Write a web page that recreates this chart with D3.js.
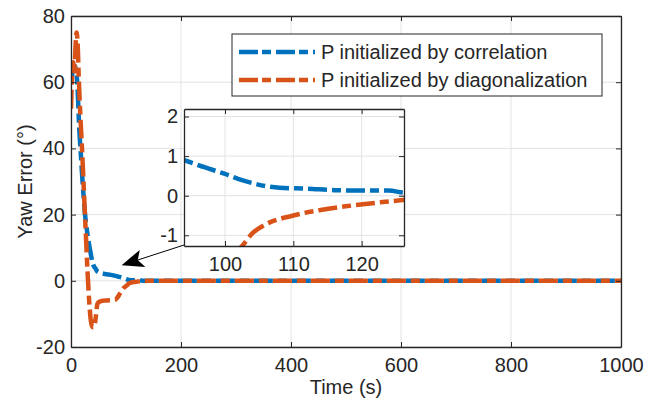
<!DOCTYPE html>
<html>
<head>
<meta charset="utf-8">
<script src="https://cdn.jsdelivr.net/npm/d3@7"></script>
<style>
  body { margin: 0; background: #fff; }
  svg text { font-family: "Liberation Sans", Arial, Helvetica, sans-serif; fill: #262626; }
</style>
</head>
<body>
<svg id="chart" width="657" height="403"></svg>
<script>
// series
const seriesNames = ['P initialized by correlation', 'P initialized by diagonalization'];

const corrTime = [0, 3, 6, 9, 12, 15, 18, 21, 25, 30, 35, 40, 45, 48, 55, 65, 75, 85, 94, 97, 100, 102, 104, 106, 108, 112, 116, 120, 124, 126, 130, 140, 1000];
const corrErr  = [61, 63, 65, 64, 58, 46, 38, 30, 21, 14, 9, 5, 3.6, 2.8, 2.3, 2.0, 1.7, 1.3, 0.9, 0.72, 0.55, 0.42, 0.32, 0.24, 0.2, 0.18, 0.14, 0.13, 0.13, 0.08, 0.05, 0, 0];

const diagTime = [0, 2, 4, 6, 8, 10, 12, 14, 17, 20, 24, 27, 30, 33, 36, 39, 42, 45, 48, 52, 60, 80, 90, 95, 100, 102.5, 104, 106, 110, 114, 118, 122, 126, 132, 140, 1000];
const diagErr  = [52, 62, 66, 62, 70, 75, 72, 62, 50, 40, 25, 14, 3, -6, -12, -14, -14, -11, -7, -6.3, -6, -5.7, -3.6, -2.3, -1.6, -1.27, -0.95, -0.72, -0.5, -0.36, -0.26, -0.18, -0.11, -0.05, -0.01, 0];

const mainXTicks = [0, 200, 400, 600, 800, 1000];
const mainYTicks = [-20, 0, 20, 40, 60, 80];
const zoomXTicks = [100, 110, 120];
const zoomYTicks = [-1, 0, 1, 2];

// arrow annotation: tip in main data units
const arrowTip = [92, 4.7];

const colors = ['#0072BD', '#D95319'];
const axisColor = '#262626';
const gridColor = '#e3e3e3';

const svg = d3.select('#chart');

const series = [
    corrTime.map((t, i) => ({ t: t, v: corrErr[i] })),
    diagTime.map((t, i) => ({ t: t, v: diagErr[i] }))
];

// plain labels, hyphen minus like the original
const fmt = d => String(d);

function drawAxes(g, x, y, xt, yt, w, h, fontSize, id) {
    // grid
    g.append('g').selectAll('line').data(xt).join('line')
        .attr('x1', d => x(d)).attr('x2', d => x(d))
        .attr('y1', 0).attr('y2', h)
        .attr('stroke', gridColor).attr('stroke-width', 1);
    g.append('g').selectAll('line').data(yt).join('line')
        .attr('x1', 0).attr('x2', w)
        .attr('y1', d => y(d)).attr('y2', d => y(d))
        .attr('stroke', gridColor).attr('stroke-width', 1);

    g.append('clipPath').attr('id', id)
        .append('rect').attr('width', w).attr('height', h);

    const lines = g.append('g').attr('clip-path', `url(#${id})`);
    const line = d3.line()
        .x(d => x(d.t))
        .y(d => y(d.v))
        .curve(d3.curveMonotoneX);
    series.forEach((s, i) => {
        lines.append('path')
            .attr('d', line(s))
            .attr('fill', 'none')
            .attr('stroke', colors[i])
            .attr('stroke-width', 4.5)
            .attr('stroke-dasharray', '19,5,9,5');
    });

    const tickLen = 5;
    const ax = [
        { a: d3.axisBottom(x), tr: `translate(0,${h})` },
        { a: d3.axisTop(x), tr: 'translate(0,0)', noText: true },
        { a: d3.axisLeft(y), tr: 'translate(0,0)' },
        { a: d3.axisRight(y), tr: `translate(${w},0)`, noText: true }
    ];
    ax.forEach((o, k) => {
        const vals = k < 2 ? xt : yt;
        o.a.tickValues(vals).tickFormat(fmt).tickSizeInner(-tickLen).tickSizeOuter(0).tickPadding(7);
        const ag = g.append('g').attr('transform', o.tr).call(o.a);
        ag.select('.domain').attr('stroke', axisColor).attr('stroke-width', 1.3);
        ag.selectAll('.tick line').attr('stroke', axisColor).attr('stroke-width', 1);
        ag.selectAll('.tick text')
            .attr('font-size', fontSize)
            .attr('fill', axisColor)
            .style('display', o.noText ? 'none' : null);
        if (k === 0) ag.selectAll('.tick text').attr('dy', '0.65em').attr('y', 12);
        if (k === 2) ag.selectAll('.tick text').attr('x', -6);
    });
}

// ---- main axes
const main = { left: 71, top: 16, width: 550, height: 331 };
const mg = svg.append('g').attr('transform', `translate(${main.left},${main.top})`);
const mx = d3.scaleLinear().domain([0, 1000]).range([0, main.width]);
const my = d3.scaleLinear().domain([-20, 80]).range([main.height, 0]);
mg.append('rect').attr('width', main.width).attr('height', main.height).attr('fill', '#fff');
drawAxes(mg, mx, my, mainXTicks, mainYTicks, main.width, main.height, 20, 'clipMain');

svg.append('text')
    .attr('x', main.left + main.width / 2)
    .attr('y', 394)
    .attr('text-anchor', 'middle')
    .attr('font-size', 20)
    .text('Time (s)');

svg.append('text')
    .attr('transform', `translate(32,${main.top + main.height / 2}) rotate(-90)`)
    .attr('text-anchor', 'middle')
    .attr('font-size', 20)
    .text('Yaw Error (°)');

// ---- legend
const lg = svg.append('g').attr('transform', 'translate(232,34)');
lg.append('rect').attr('width', 370).attr('height', 62)
    .attr('fill', '#fff').attr('stroke', axisColor).attr('stroke-width', 1);
seriesNames.forEach((name, i) => {
    const yy = 18 + i * 28;
    lg.append('line')
        .attr('x1', 7).attr('x2', 83).attr('y1', yy).attr('y2', yy)
        .attr('stroke', colors[i]).attr('stroke-width', 4.5)
        .attr('stroke-dasharray', '19,4,9,5');
    lg.append('text')
        .attr('x', 89).attr('y', yy + 7)
        .attr('font-size', 20)
        .text(name);
});

// ---- inset
const inset = { left: 184, top: 109, width: 220, height: 137 };
const ig = svg.append('g').attr('transform', `translate(${inset.left},${inset.top})`);
const ix = d3.scaleLinear().domain([94, 126.2]).range([0, inset.width]);
const iy = d3.scaleLinear().domain([-1.27, 2.19]).range([inset.height, 0]);
ig.append('rect').attr('width', inset.width).attr('height', inset.height).attr('fill', '#fff');
drawAxes(ig, ix, iy, zoomXTicks, zoomYTicks, inset.width, inset.height, 20, 'clipInset');

// ---- arrow from inset corner to the settling region
const tail = [inset.left, inset.top + inset.height - 1];
const tip = [main.left + mx(arrowTip[0]), main.top + my(arrowTip[1])];
const ang = Math.atan2(tip[1] - tail[1], tip[0] - tail[0]);
const headLen = 22, headHalf = 9, back = 5;
const ux = Math.cos(ang), uy = Math.sin(ang);
const bx = tip[0] - ux * headLen, by = tip[1] - uy * headLen;
svg.append('line')
    .attr('x1', tail[0]).attr('y1', tail[1])
    .attr('x2', bx + ux * back).attr('y2', by + uy * back)
    .attr('stroke', '#000').attr('stroke-width', 1);
svg.append('path')
    .attr('d', d3.line()([
        tip,
        [bx - uy * headHalf, by + ux * headHalf],
        [bx + ux * back, by + uy * back],
        [bx + uy * headHalf, by - ux * headHalf]
    ]) + 'Z')
    .attr('fill', '#000');
</script>
</body>
</html>
